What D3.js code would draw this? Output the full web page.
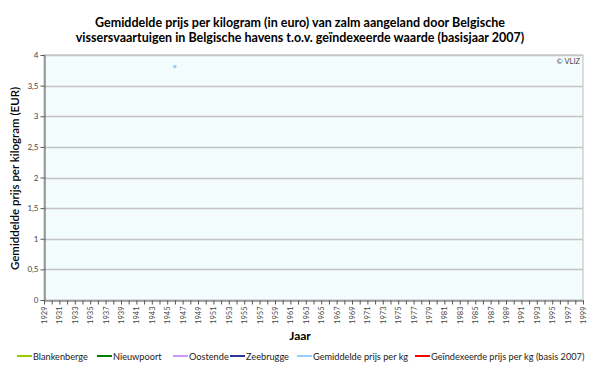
<!DOCTYPE html>
<html>
<head>
<meta charset="utf-8">
<script src="https://cdn.jsdelivr.net/npm/d3@7"></script>
<style>
  body { margin: 0; background: #fff; }
  text { font-family: Lato, "Open Sans", sans-serif; }
</style>
</head>
<body>
<svg id="chart" width="600" height="368"></svg>
<script>
// data
var years = d3.range(1929, 2000);
var seriesNames = ["Blankenberge", "Nieuwpoort", "Oostende", "Zeebrugge",
    "Gemiddelde prijs per kg", "Geïndexeerde prijs per kg (basis 2007)"];
var seriesColors = ["#99CC00", "#008000", "#CC99FF", "#333399", "#99CCFF", "#FF0000"];
var avgPrice = [{year: 1946, value: 3.81}];
var yTicks = [0, 0.5, 1, 1.5, 2, 2.5, 3, 3.5, 4];

var svg = d3.select("#chart");
var plotLeft = 44, plotRight = 583, plotTop = 55, plotBottom = 300;

var x = d3.scaleLinear().domain([1929, 1999]).range([plotLeft, plotRight]);
var y = d3.scaleLinear().domain([0, 4]).range([plotBottom, plotTop]);
var fmt = function(d){ return String(d).replace(".", ","); };

var defs = svg.append("defs");
var pat = defs.append("pattern")
    .attr("id", "dots")
    .attr("width", 2).attr("height", 2)
    .attr("patternUnits", "userSpaceOnUse");
pat.append("rect").attr("width", 2).attr("height", 2).attr("fill", "#FBFFFF");
pat.append("rect").attr("width", 1).attr("height", 1).attr("fill", "#EAFAFA");
pat.append("rect").attr("x", 1).attr("y", 1).attr("width", 1).attr("height", 1).attr("fill", "#EAFAFA");

// plot background
svg.append("rect")
    .attr("x", plotLeft).attr("y", plotTop)
    .attr("width", plotRight - plotLeft).attr("height", plotBottom - plotTop)
    .attr("fill", "url(#dots)")
    .attr("stroke", "#BDBDBD");

// gridlines
svg.append("g").selectAll("line")
    .data(yTicks.filter(function(d){ return d > 0; }))
    .enter().append("line")
    .attr("x1", plotLeft).attr("x2", plotRight)
    .attr("y1", function(d){ return Math.round(y(d)) + 0.5; })
    .attr("y2", function(d){ return Math.round(y(d)) + 0.5; })
    .attr("stroke", "#C4C4C4")
    .attr("stroke-width", 1.5);

// y axis
var yAxis = svg.append("g")
    .attr("transform", "translate(" + (plotLeft + 0.5) + ",0)")
    .call(d3.axisLeft(y).tickValues(yTicks).tickFormat(fmt).tickSize(4).tickSizeOuter(0));
yAxis.select(".domain").attr("stroke", "#555");
yAxis.selectAll(".tick line").attr("stroke", "#555");
yAxis.selectAll(".tick text")
    .attr("x", -6)
    .attr("fill", "#444")
    .attr("font-size", 8)
    .attr("font-family", "Lato, sans-serif");

// x axis
var xAxis = svg.append("g")
    .attr("transform", "translate(0," + (plotBottom + 0.5) + ")")
    .call(d3.axisBottom(x).tickValues(years).tickSize(4).tickSizeOuter(0)
        .tickFormat(function(d){ return (d - 1929) % 2 === 0 ? d : ""; }));
xAxis.select(".domain").attr("stroke", "#555");
xAxis.selectAll(".tick line").attr("stroke", "#555");
xAxis.selectAll(".tick text")
    .attr("transform", "rotate(-90)")
    .attr("x", -6)
    .attr("y", 0)
    .attr("dy", "0.32em")
    .attr("text-anchor", "end")
    .attr("fill", "#444")
    .attr("font-size", 7.5)
    .attr("font-family", "Lato, sans-serif");

// data point
svg.append("g").selectAll("rect")
    .data(avgPrice)
    .enter().append("rect")
    .attr("x", function(d){ return x(d.year) - 1.5; })
    .attr("y", function(d){ return y(d.value) - 1.5; })
    .attr("width", 3).attr("height", 3)
    .attr("fill", seriesColors[4]);

// titles
var title = svg.append("text")
    .attr("text-anchor", "middle")
    .attr("font-weight", "bold")
    .attr("font-size", 12.5)
    .attr("fill", "#000");
title.append("tspan").attr("x", 300).attr("y", 27)
    .text("Gemiddelde prijs per kilogram (in euro) van zalm aangeland door Belgische");
title.append("tspan").attr("x", 300).attr("y", 42)
    .text("vissersvaartuigen in Belgische havens t.o.v. geïndexeerde waarde (basisjaar 2007)");

svg.append("text")
    .attr("transform", "translate(19," + ((plotTop + plotBottom) / 2 + 1) + ") rotate(-90)")
    .attr("text-anchor", "middle")
    .attr("font-weight", 600)
    .attr("font-size", 11.5)
    .text("Gemiddelde prijs per kilogram (EUR)");

svg.append("text")
    .attr("x", 300).attr("y", 340)
    .attr("text-anchor", "middle")
    .attr("font-weight", "bold")
    .attr("font-size", 12)
    .text("Jaar");

svg.append("text")
    .attr("x", 580).attr("y", 64)
    .attr("text-anchor", "end")
    .attr("font-size", 7.5)
    .attr("fill", "#444")
    .text("© VLIZ");

// legend
var legendX = [17, 97, 173, 230, 297, 415];
var legend = svg.append("g").selectAll("g")
    .data(seriesNames)
    .enter().append("g")
    .attr("transform", function(d, i){ return "translate(" + legendX[i] + ",356)"; });
legend.append("line")
    .attr("x1", 0).attr("x2", 15)
    .attr("stroke", function(d, i){ return seriesColors[i]; })
    .attr("stroke-width", 2);
legend.append("text")
    .attr("x", 16).attr("y", 3.5)
    .attr("font-size", 9.2)
    .attr("fill", "#222")
    .text(function(d){ return d; });
</script>
</body>
</html>
